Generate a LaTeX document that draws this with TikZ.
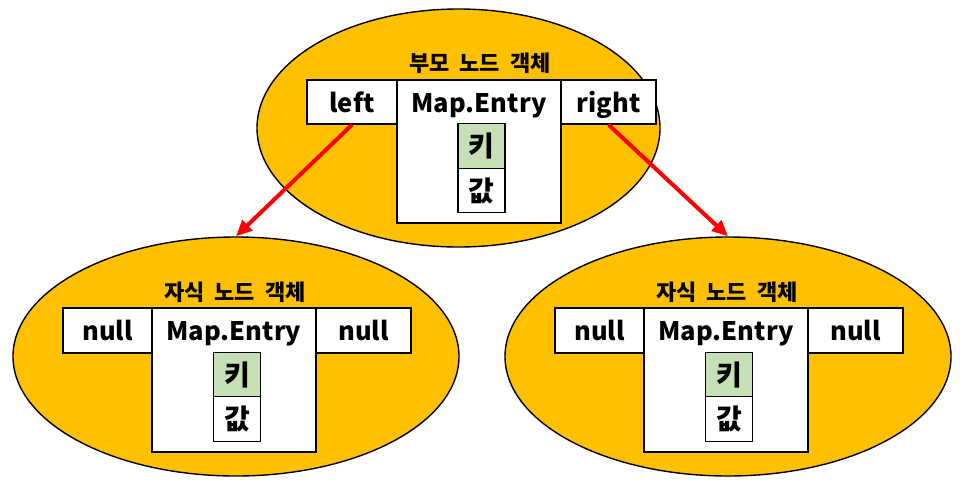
\documentclass[tikz,border=0pt]{standalone}
\usepackage{fontspec}
\setmainfont{Noto Sans CJK KR}
\usetikzlibrary{positioning}
\usetikzlibrary{shapes.geometric, arrows.meta}

\definecolor{objfill}{HTML}{FFC000}
\definecolor{keyfill}{HTML}{C5E0B4}
\newcommand\titlefont{\fontsize{22}{26}\selectfont\bfseries\spaceskip=0.45em\relax}

\begin{document}
\begin{tikzpicture}[x=1pt,y=-1pt,
		obj/.style={draw, ellipse, fill=objfill, line width=1.4pt, inner sep=0pt},
		cell/.style={draw, fill=white, line width=1.4pt, inner sep=0pt,
			text height=22pt, text depth=2pt, font=\fontsize{25.5}{30}\selectfont\bfseries},
		kv/.style={cell, minimum width=47, minimum height=44.5, text height=, text depth=,
			font=\fontsize{28}{32}\selectfont\bfseries},
		title/.style={font=\titlefont},
		link/.style={-{Triangle[length=16pt,width=14pt]}, red, line width=4pt}]
	\useasboundingbox (0,0) rectangle (960,491);

	% parent object
	\node[obj, minimum width=403, minimum height=238] (P) at (458.5,128) {};
	\node[title] (P-t) at (480,63) {부모 노드 객체};
	\node[cell, minimum width=90, minimum height=44] (P-l) at (352,102) {left};
	\node[cell, minimum width=164, minimum height=143] (P-m) at (479,151.5) {};
	\node[cell, minimum width=95, minimum height=44] (P-r) at (608.5,102) {right};
	\node[cell, draw=none, fill=none] (P-e) at (479,102) {Map.Entry};
	\node[kv, fill=keyfill] (P-k) at (481.5,146) {키};
	\node[kv] (P-v) at (481.5,190.5) {값};

	% child objects
	\foreach \n/\dx in {L/0, R/492} {
		\begin{scope}[xshift=\dx]
			\node[obj, minimum width=446, minimum height=239] (\n) at (236,356.5) {};
			\node[title] (\n-t) at (235,292) {자식 노드 객체};
			\node[cell, minimum width=89, minimum height=45] (\n-l) at (107.5,330.5) {null};
			\node[cell, minimum width=164, minimum height=144] (\n-m) at (234,380) {};
			\node[cell, minimum width=95, minimum height=45] (\n-r) at (363.5,330.5) {null};
			\node[cell, draw=none, fill=none] (\n-e) at (234,330.5) {Map.Entry};
			\node[kv, fill=keyfill] (\n-k) at (237,375) {키};
			\node[kv] (\n-v) at (237,419) {값};
		\end{scope}
	}

	\draw[link] (P-l.south) -- (L.north);
	\draw[link] (P-r.south) -- (R.north);
\end{tikzpicture}
\end{document}
